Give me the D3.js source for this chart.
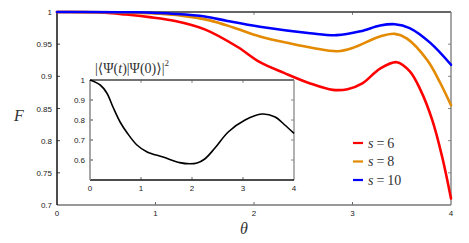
<!DOCTYPE html>
<html>
<head>
<meta charset="utf-8">
<script src="https://cdn.jsdelivr.net/npm/d3@7"></script>
<style>
  body { margin: 0; background: #fff; }
  svg { display: block; }
  .tick-lbl { font-family: "Liberation Sans", Arial, sans-serif; font-size: 8px; fill: #222; }
  .math { font-family: "Liberation Serif", "DejaVu Serif", serif; fill: #333; }
</style>
</head>
<body>
<svg id="chart" width="469" height="243"></svg>
<script>
// fidelity curves F(theta)
var theta6 = [0, 0.4, 0.7, 0.94, 1.2, 1.5, 1.83, 2.06, 2.31, 2.57, 2.8, 2.95, 3.1, 3.28, 3.45, 3.58, 3.69, 3.81, 3.91, 4.0];
var f6     = [1, 0.9995, 0.996, 0.992, 0.986, 0.973, 0.946, 0.922, 0.905, 0.889, 0.879, 0.880, 0.889, 0.912, 0.922, 0.908, 0.879, 0.832, 0.775, 0.71];

var theta8 = [0, 0.55, 0.94, 1.28, 1.55, 1.79, 2.06, 2.37, 2.6, 2.85, 3.0, 3.28, 3.43, 3.55, 3.76, 3.89, 4.0];
var f8     = [1, 0.9995, 0.998, 0.994, 0.987, 0.976, 0.962, 0.951, 0.944, 0.939, 0.944, 0.962, 0.966, 0.959, 0.925, 0.890, 0.855];

var theta10 = [0, 0.8, 1.2, 1.5, 1.73, 2.06, 2.57, 2.84, 3.08, 3.28, 3.43, 3.58, 3.79, 4.0];
var f10     = [1, 0.9995, 0.997, 0.993, 0.986, 0.977, 0.967, 0.964, 0.970, 0.979, 0.981, 0.975, 0.952, 0.918];

// inset: overlap |<Psi(t)|Psi(0)>|^2
var insetT = [0, 0.2, 0.33, 0.45, 0.59, 0.73, 0.92, 1.12, 1.43, 1.76, 1.95, 2.1, 2.25, 2.45, 2.71, 3.04, 3.37, 3.63, 3.82, 4.0];
var insetV = [1, 0.975, 0.935, 0.865, 0.79, 0.735, 0.675, 0.64, 0.615, 0.587, 0.581, 0.585, 0.605, 0.66, 0.74, 0.8, 0.83, 0.815, 0.775, 0.733];

var mainXTicks = [0, 1, 2, 3, 4];
var mainYTicks = [0.7, 0.75, 0.8, 0.85, 0.9, 0.95, 1];
var insetXTicks = [0, 1, 2, 3, 4];
var insetYTicks = [0.6, 0.7, 0.8, 0.9, 1];

var seriesLabels = ["6", "8", "10"];
var seriesColors = ["#ff0000", "#e38a00", "#0000ff"];

var svg = d3.select("#chart");

// main axes box
var mx0 = 57, mx1 = 451, my0 = 12, my1 = 205;
var x = d3.scaleLinear().domain([0, 4]).range([mx0, mx1]);
var y = d3.scaleLinear().domain([0.7, 1]).range([my1, my0]);

function drawFrame(xs, ys, xt, yt, cols, tickLen) {
  var g = svg.append("g");
  var l = xs.range()[0], r = xs.range()[1], b = ys.range()[0], t = ys.range()[1];
  // inner ticks on all four sides
  xt.forEach(function(v) {
    if (v === xs.domain()[0] || v === xs.domain()[1]) return;
    g.append("line").attr("x1", xs(v)).attr("x2", xs(v)).attr("y1", b).attr("y2", b - tickLen).attr("stroke", "#666").attr("stroke-width", 1);
    g.append("line").attr("x1", xs(v)).attr("x2", xs(v)).attr("y1", t).attr("y2", t + tickLen).attr("stroke", "#888").attr("stroke-width", 1);
  });
  yt.forEach(function(v) {
    if (v === ys.domain()[0] || v === ys.domain()[1]) return;
    g.append("line").attr("x1", l).attr("x2", l + tickLen).attr("y1", ys(v)).attr("y2", ys(v)).attr("stroke", "#444").attr("stroke-width", 1);
    g.append("line").attr("x1", r).attr("x2", r - tickLen).attr("y1", ys(v)).attr("y2", ys(v)).attr("stroke", "#888").attr("stroke-width", 1);
  });
  g.append("line").attr("x1", l).attr("x2", r).attr("y1", t).attr("y2", t).attr("stroke", cols.top).attr("stroke-width", 1.3);
  g.append("line").attr("x1", r).attr("x2", r).attr("y1", t).attr("y2", b).attr("stroke", cols.right).attr("stroke-width", 1.3);
  g.append("line").attr("x1", l).attr("x2", r).attr("y1", b).attr("y2", b).attr("stroke", cols.bottom).attr("stroke-width", 1.5);
  g.append("line").attr("x1", l).attr("x2", l).attr("y1", t).attr("y2", b).attr("stroke", cols.left).attr("stroke-width", 1.5);

  xt.forEach(function(v) {
    g.append("text").attr("class", "tick-lbl").attr("x", xs(v)).attr("y", b + 11)
      .attr("text-anchor", "middle").text(v);
  });
  yt.forEach(function(v) {
    g.append("text").attr("class", "tick-lbl").attr("x", l - 5).attr("y", ys(v) + 3)
      .attr("text-anchor", "end").text(String(v));
  });
  return g;
}

drawFrame(x, y, mainXTicks, mainYTicks,
  {top: "#333", right: "#777", bottom: "#777", left: "#111"}, 3);

var line = d3.line().curve(d3.curveCatmullRom.alpha(0.5));
var sets = [[theta6, f6], [theta8, f8], [theta10, f10]];
sets.forEach(function(s, i) {
  var pts = s[0].map(function(t, k) { return [x(t), y(s[1][k])]; });
  svg.append("path").attr("d", line(pts)).attr("fill", "none")
    .attr("stroke", seriesColors[i]).attr("stroke-width", 2.6)
    .attr("stroke-linejoin", "round").attr("stroke-linecap", "round");
});

// axis labels
svg.append("text").attr("class", "math").attr("x", 19).attr("y", 121)
  .attr("font-size", 16).attr("font-style", "italic").attr("text-anchor", "middle").text("F");
svg.append("text").attr("class", "math").attr("x", 244).attr("y", 234)
  .attr("font-size", 16).attr("font-style", "italic").attr("text-anchor", "middle").text("θ");

// legend
seriesLabels.forEach(function(n, i) {
  var ly = 143 + i * 18.5;
  svg.append("line").attr("x1", 353).attr("x2", 363).attr("y1", ly).attr("y2", ly)
    .attr("stroke", seriesColors[i]).attr("stroke-width", 2.2);
  var t = svg.append("text").attr("class", "math").attr("x", 368).attr("y", ly + 4.5).attr("font-size", 14);
  t.append("tspan").attr("font-style", "italic").text("s");
  t.append("tspan").attr("dx", 3).text("=");
  t.append("tspan").attr("dx", 3).text(n);
});

// inset
var ix = d3.scaleLinear().domain([0, 4]).range([90, 294]);
var iy = d3.scaleLinear().domain([0.5, 1]).range([180, 80]);
svg.append("rect").attr("x", 90).attr("y", 80).attr("width", 204).attr("height", 100).attr("fill", "#fff");
drawFrame(ix, iy, insetXTicks, insetYTicks,
  {top: "#444", right: "#888", bottom: "#111", left: "#888"}, 3);
var ipts = insetT.map(function(t, k) { return [ix(t), iy(insetV[k])]; });
svg.append("path").attr("d", line(ipts)).attr("fill", "none")
  .attr("stroke", "#000").attr("stroke-width", 1.6);

var title = svg.append("text").attr("class", "math").attr("x", 95).attr("y", 73).attr("font-size", 14).attr("fill", "#444");
title.append("tspan").text("|⟨Ψ(");
title.append("tspan").attr("font-style", "italic").text("t");
title.append("tspan").text(")|Ψ(0)⟩|");
title.append("tspan").attr("font-size", 9).attr("dy", -7).text("2");
</script>
</body>
</html>
